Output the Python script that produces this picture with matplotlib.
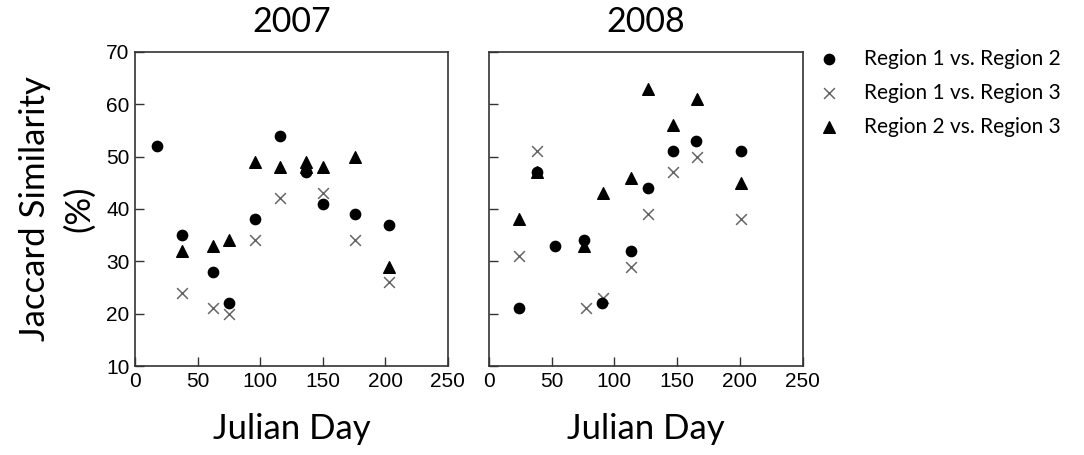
import matplotlib
matplotlib.use("Agg")
import matplotlib.pyplot as plt
import numpy as np

# 2007
day07_r12 = [18, 38, 62, 75, 96, 116, 137, 150, 176, 203]
sim07_r12 = [52, 35, 28, 22, 38, 54, 47, 41, 39, 37]
day07_r13 = [38, 62, 75, 96, 116, 150, 176, 203]
sim07_r13 = [24, 21, 20, 34, 42, 43, 34, 26]
day07_r23 = [38, 62, 75, 96, 116, 137, 137, 150, 176, 203]
sim07_r23 = [32, 33, 34, 49, 48, 48, 49, 48, 50, 29]

# 2008
day08_r12 = [24, 38, 53, 76, 90, 113, 127, 147, 165, 201]
sim08_r12 = [21, 47, 33, 34, 22, 32, 44, 51, 53, 51]
day08_r13 = [24, 38, 77, 91, 113, 127, 147, 166, 201]
sim08_r13 = [31, 51, 21, 23, 29, 39, 47, 50, 38]
day08_r23 = [24, 38, 76, 91, 113, 127, 147, 166, 201]
sim08_r23 = [38, 47, 33, 43, 46, 63, 56, 61, 45]

labels = ["Region 1 vs. Region 2", "Region 1 vs. Region 3", "Region 2 vs. Region 3"]
years = ["2007", "2008"]

txt_font = "Lato"
num_font = "Liberation Sans"

fig = plt.figure(figsize=(10.84, 4.55), dpi=100)
ax1 = fig.add_axes([0.1245, 0.1956, 0.2885, 0.6904])
ax2 = fig.add_axes([0.451, 0.1956, 0.2895, 0.6904])

data = [
    (day07_r12, sim07_r12, day07_r13, sim07_r13, day07_r23, sim07_r23),
    (day08_r12, sim08_r12, day08_r13, sim08_r13, day08_r23, sim08_r23),
]

for ax, yr, d in zip([ax1, ax2], years, data):
    ax.scatter(d[2], d[3], marker="x", s=60, color="#666666", linewidths=1.1, label=labels[1], zorder=2)
    ax.scatter(d[0], d[1], marker="o", s=55, color="black", label=labels[0], zorder=3)
    ax.scatter(d[4], d[5], marker="^", s=70, color="black", label=labels[2], zorder=3)
    ax.set_xlim(0, 250)
    ax.set_ylim(10, 70)
    ax.set_xticks([0, 50, 100, 150, 200, 250])
    ax.set_yticks([10, 20, 30, 40, 50, 60, 70])
    ax.tick_params(direction="in", length=6.5, width=1, color="#333333",
                   labelsize=15, pad=4, top=False, right=False)
    for lab in ax.get_xticklabels() + ax.get_yticklabels():
        lab.set_fontfamily(num_font)
    for sp in ax.spines.values():
        sp.set_color("#333333")
        sp.set_linewidth(1.2)
    ax.set_title(yr, fontsize=24.5, fontfamily=txt_font, pad=14)
    ax.set_xlabel("Julian Day", fontsize=25, fontfamily=txt_font, labelpad=16)

ax2.set_yticklabels([])
ax1.set_ylabel("Jaccard Similarity\n(%)", fontsize=25, fontfamily=txt_font, labelpad=8,
               linespacing=1.45)

h, l = ax2.get_legend_handles_labels()
order = [1, 0, 2]
ax2.legend([h[i] for i in order], [l[i] for i in order], loc="upper left",
           bbox_to_anchor=(0.97, 1.07), frameon=False,
           prop={"family": txt_font, "size": 15}, handletextpad=0.9,
           handlelength=1.6, labelspacing=0.68, scatterpoints=1)

fig.savefig("out.png", dpi=100)
